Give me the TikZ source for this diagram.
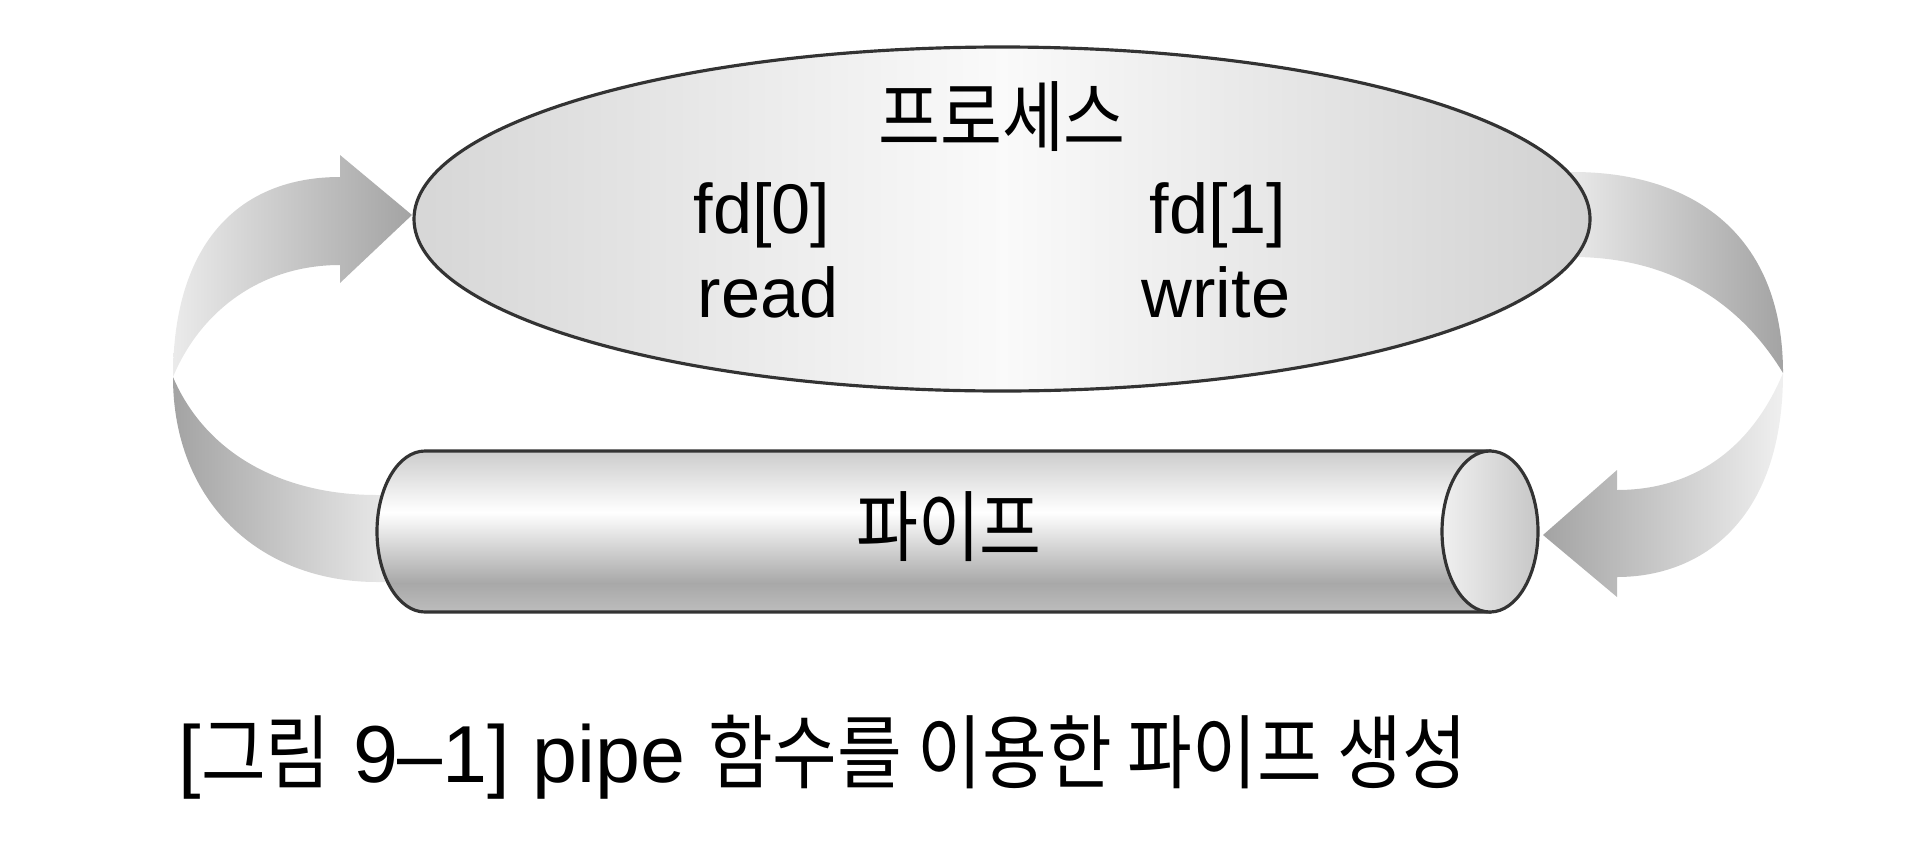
\documentclass[tikz,border=0pt]{standalone}
\usepackage{fontspec}
\setmainfont{Liberation Sans}
\newfontfamily\kr[FakeStretch=0.87]{Noto Sans CJK KR}
\usepackage{tikz}
\usepackage{xcolor}
\usetikzlibrary{shapes,arrows,positioning,calc}

% vertical profile of the pipe body (bottom -> top)
\pgfdeclareverticalshading{pipeshade}{100bp}{%
  color(0bp)=(black!26); color(25bp)=(black!26); color(34bp)=(black!34);
  color(56bp)=(white); color(75bp)=(black!20); color(100bp)=(black!20)}

\tikzset{
  process/.style={ellipse, draw=black!80, line width=0.9pt, inner sep=0pt,
    minimum width=11.76cm, minimum height=3.44cm,
    left color=black!16, right color=black!18, middle color=black!2},
  fdtext/.style={anchor=base, font=\fontsize{20}{24}\selectfont},
  krtext/.style={font=\fontsize{22}{26}\selectfont\kr},
  outline/.style={draw=black!80, line width=0.9pt}
}

\begin{document}
\begin{tikzpicture}
        \useasboundingbox (0,0) rectangle (19.2,8.62);

        % ============================================================
        % Arrows - left side (pipe -> process)
        % ============================================================
        \shade[left color=black!36, right color=black!6]
            (1.73,4.85) .. controls (1.73,3.6) and (2.6,2.80) .. (3.77,2.80)
            -- (4.1,2.80) -- (4.1,3.67) -- (3.77,3.67)
            .. controls (2.8,3.67) and (2.05,4.1) .. (1.73,4.85) -- cycle;
        \shade[left color=black!8, right color=black!36]
            (4.12,6.47) -- (3.40,7.07) -- (3.40,6.85)
            .. controls (2.4,6.85) and (1.73,6.2) .. (1.73,4.85)
            .. controls (2.0,5.5) and (2.6,5.97) .. (3.40,5.97)
            -- (3.40,5.79) -- cycle;

        % ============================================================
        % Arrows - right side (process -> pipe)
        % ============================================================
        \shade[left color=black!6, right color=black!36]
            (15.5,6.90) -- (15.73,6.90)
            .. controls (16.9,6.90) and (17.83,6.3) .. (17.83,4.89)
            .. controls (17.4,5.6) and (16.7,6.05) .. (15.73,6.05)
            -- (15.5,6.05) -- cycle;
        \shade[left color=black!36, right color=black!6]
            (17.83,4.89) .. controls (17.83,3.4) and (17.0,2.85) .. (16.17,2.85)
            -- (16.17,2.65) -- (15.43,3.27) -- (16.17,3.92) -- (16.17,3.72)
            .. controls (16.9,3.72) and (17.5,4.1) .. (17.83,4.89) -- cycle;

        % ============================================================
        % Process
        % ============================================================
        \node[process] (proc) at (10.02,6.43) {};
        \node[krtext] (title) at (10.02,7.45) {프로세스};
        \node[fdtext] (fd0) at (7.62,6.29) {fd[0]};
        \node[fdtext] (rd) at (7.68,5.45) {read};
        \node[fdtext] (fd1) at (12.18,6.29) {fd[1]};
        \node[fdtext] (wr) at (12.16,5.45) {write};

        % ============================================================
        % Pipe
        % ============================================================
        \shadedraw[shading=pipeshade, outline]
            (14.90,4.11) -- (4.25,4.11)
            arc[start angle=90, end angle=270, x radius=0.48, y radius=0.805]
            -- (14.90,2.50) -- cycle;
        \draw[outline, left color=black!6, right color=black!22]
            (14.90,3.305) ellipse [x radius=0.48, y radius=0.805];
        \node[krtext] (pipe) at (9.49,3.35) {파이프};

        % caption
        \node[anchor=base west, inner sep=0pt, font=\fontsize{23}{27}\selectfont] (cap) at (1.78,0.80)
            {[{\kr 그림} 9–1] pipe {\kr 함수를 이용한 파이프 생성}};

\end{tikzpicture}
\end{document}
